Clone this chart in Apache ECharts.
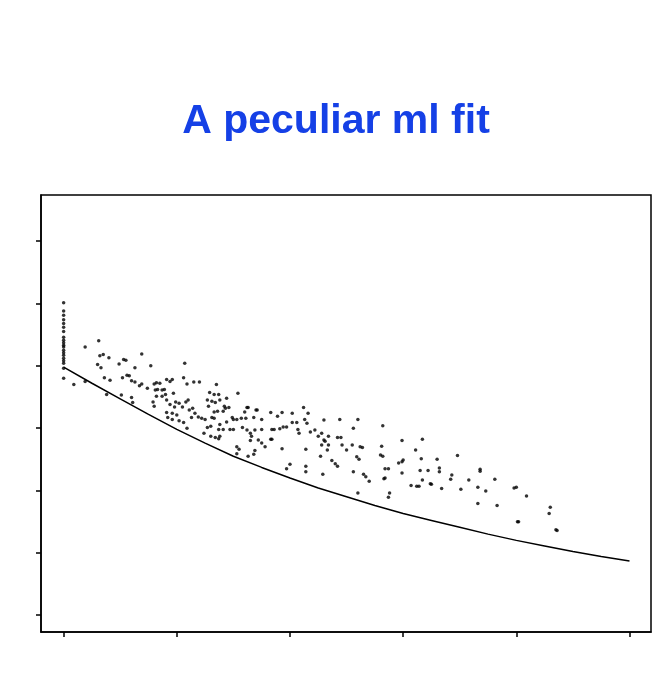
<!DOCTYPE html>
<html>
<head>
<meta charset="utf-8">
<script src="https://cdn.jsdelivr.net/npm/echarts@6/dist/echarts.min.js"></script>
<style>html,body{margin:0;padding:0;background:#fff;}#c{width:672px;height:673px;}</style>
</head>
<body>
<div id="c"></div>
<script>
// ---- data ----
var titleText = 'A peculiar ml fit';
var xTicks = [0, 100, 200, 300, 400, 500];
var yTicks = [0, 100, 200, 300, 400, 500, 600];

// observations stacked at x = 0
var columnY = [501, 488, 481, 474, 468, 462, 455, 446, 441, 437, 433, 430, 425, 421, 417, 412, 408, 404, 396, 380];

// scatter points, left part
var pointsLeft = [
  [19,430],[31,440],[32,416],[35,418],[40,413],[30,402],[33,397],[9,370],[19,375],[36,381],
  [41,377],[38,354],[49,403],[53,410],[55,409],[69,419],[52,381],[56,385],[58,384],[63,397],
  [60,376],[63,374],[67,368],[69,371],[51,353],[60,349],[61,341],[77,400],[74,364],[80,371],
  [82,373],[85,372],[81,361],[83,362],[87,361],[89,362],[91,378],[94,375],[96,378],[107,404],
  [106,381],[109,371],[115,374],[120,374],[82,351],[87,351],[90,354],[79,342],[80,335],[91,345],
  [94,338],[97,356],[99,342],[102,340],[98,334],[105,334],[108,342],[110,345],[111,329],[114,332],
  [116,324],[91,325],[96,324],[92,317],[96,314],[100,321],[102,312],[106,309],[109,300],[113,317],
  [119,318]
];

// scatter points, middle part
var pointsMid = [
  [135,370],[154,356],[129,357],[133,354],[137,354],[127,345],[131,343],[134,341],[138,345],[144,348],
  [128,335],[133,326],[136,327],[142,335],[143,332],[146,333],[141,327],[122,316],[125,314],[131,317],
  [133,316],[144,310],[149,317],[150,314],[153,314],[162,333],[163,333],[160,326],[157,316],[161,316],
  [168,317],[170,329],[171,329],[183,325],[189,319],[193,325],[202,324],[212,333],[216,324],[175,314],
  [184,298],[186,298],[191,299],[194,302],[197,302],[202,309],[206,309],[213,314],[215,308],[207,298],
  [208,292],[127,301],[130,303],[137,298],[138,306],[124,292],[130,287],[134,285],[141,298],[147,298],
  [150,298],[158,301],[162,297],[165,292],[166,287],[169,297],[175,298],[138,287],[137,283],[165,280],
  [172,281],[175,276],[153,270],[155,266],[153,259],[163,255],[168,258],[169,264],[193,267],[178,270],
  [183,282],[184,282],[200,242],[197,235],[214,266],[218,294],[222,297],[225,287],[228,292],[230,281],
  [231,279],[234,287],[230,313],[214,239],[214,230],[227,255],[229,226],[228,273],[234,273],[233,265],
  [237,248],[240,243],[242,239],[242,285],[245,285],[244,314],[246,273],[250,265],[255,273],[256,300],
  [260,314],[256,230],[259,254],[261,250],[262,270],[264,269],[265,226],[267,222],[270,215],[260,196],
  [282,304],[281,271],[280,257],[282,255],[284,235],[287,235],[283,219],[284,220],[288,196],[287,189]
];

// scatter points, right part
var pointsRight = [
  [296,244],[299,280],[299,246],[300,249],[299,228],[307,208],[312,207],[314,207],[311,265],[317,282],
  [316,251],[315,232],[317,217],[322,232],[324,211],[325,210],[330,250],[332,236],[332,230],[334,203],
  [342,218],[343,225],[348,256],[351,202],[358,217],[366,205],[366,179],[368,234],[368,231],[373,199],
  [381,218],[383,176],[398,204],[400,205],[401,150],[402,150],[409,191],[430,173],[429,163],[435,137],
  [436,136]
];

// fitted curve
var curveX = [0, 25, 50, 75, 100, 125, 150, 175, 200, 225, 250, 275, 300, 325, 350, 375, 400, 425, 450, 475, 500];
var curveY = [398, 372, 347, 322, 298, 276, 255, 237, 220, 204, 190, 176, 163, 152, 141, 130, 120, 111, 102, 94, 87];

// ---- chart ----
var scatterData = [];
columnY.forEach(function (y) { scatterData.push([0, y]); });
pointsLeft.concat(pointsMid, pointsRight).forEach(function (p) { scatterData.push(p); });
var curveData = curveX.map(function (x, i) { return [x, curveY[i]]; });

var chart = echarts.init(document.getElementById('c'), null, { renderer: 'canvas' });
chart.setOption({
  backgroundColor: '#ffffff',
  animation: false,
  title: {
    text: titleText,
    left: 'center',
    top: 96,
    textStyle: {
      color: '#1540e6',
      fontFamily: 'Liberation Sans, Arial, sans-serif',
      fontWeight: 'bold',
      fontSize: 41
    }
  },
  grid: {
    left: 41, top: 195, width: 610, height: 437,
    show: true, borderColor: '#000', borderWidth: 1.5, backgroundColor: 'transparent'
  },
  xAxis: {
    type: 'value', min: -20, max: 519,
    axisLine: { show: true, onZero: false, lineStyle: { color: '#000', width: 1.5 } },
    axisTick: { show: true, inside: false, length: 5, customValues: xTicks, lineStyle: { color: '#000', width: 1.5 } },
    axisLabel: { show: false, customValues: xTicks },
    splitLine: { show: false }
  },
  yAxis: {
    type: 'value', min: -27, max: 674,
    axisLine: { show: true, onZero: false, lineStyle: { color: '#000', width: 1.5 } },
    axisTick: { show: true, inside: false, length: 5, customValues: yTicks, lineStyle: { color: '#000', width: 1.5 } },
    axisLabel: { show: false, customValues: yTicks },
    splitLine: { show: false }
  },
  series: [
    {
      type: 'line', data: curveData, smooth: false, showSymbol: false,
      lineStyle: { color: '#000', width: 1.5 }, z: 2
    },
    {
      type: 'scatter', data: scatterData, symbol: 'circle', symbolSize: 3.5,
      itemStyle: { color: '#000' }, z: 3
    }
  ]
});
</script>
</body>
</html>
